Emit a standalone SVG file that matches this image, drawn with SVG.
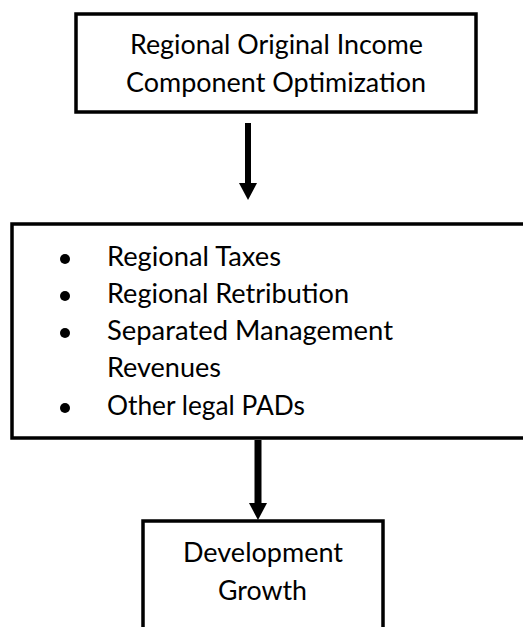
<svg xmlns="http://www.w3.org/2000/svg" width="523" height="627" viewBox="0 0 523 627">
<style>
.box{fill:#fff;stroke:#000;stroke-width:3.5}
.t{font-family:Lato,"Open Sans","Liberation Sans",sans-serif;font-size:26px;fill:#000}
.shaft{stroke:#000;fill:none}
</style>
<rect width="523" height="627" fill="#fff"/>
<g id="node-top">
<rect class="box" x="76" y="14" width="400" height="98"/>
<text class="t" x="130" y="54" textLength="293" lengthAdjust="spacingAndGlyphs">Regional Original Income</text>
<text class="t" x="126" y="92" textLength="300" lengthAdjust="spacingAndGlyphs">Component Optimization</text>
</g>
<g id="node-middle">
<rect class="box" x="12" y="224" width="520" height="214"/>
<circle cx="65" cy="259" r="5"/>
<text class="t" x="107" y="266" textLength="174" lengthAdjust="spacingAndGlyphs">Regional Taxes</text>
<circle cx="65" cy="296" r="5"/>
<text class="t" x="107" y="303" textLength="242" lengthAdjust="spacingAndGlyphs">Regional Retribution</text>
<circle cx="65" cy="333" r="5"/>
<text class="t" x="107" y="340" textLength="286" lengthAdjust="spacingAndGlyphs">Separated Management</text>
<text class="t" x="107" y="377" textLength="114" lengthAdjust="spacingAndGlyphs">Revenues</text>
<circle cx="65" cy="408" r="5"/>
<text class="t" x="107" y="415" textLength="198" lengthAdjust="spacingAndGlyphs">Other legal PADs</text>
</g>
<g id="node-bottom">
<rect class="box" x="143" y="521" width="240" height="130"/>
<text class="t" x="183" y="562" textLength="160" lengthAdjust="spacingAndGlyphs">Development</text>
<text class="t" x="218" y="600" textLength="89" lengthAdjust="spacingAndGlyphs">Growth</text>
</g>
<g id="connectors">
<line class="shaft" x1="248" y1="123" x2="248" y2="185" stroke-width="6"/>
<polygon points="239,183 257,183 248,200"/>
<line class="shaft" x1="258" y1="440" x2="258" y2="505" stroke-width="7"/>
<polygon points="249,503 267,503 258,520"/>
</g>
</svg>
